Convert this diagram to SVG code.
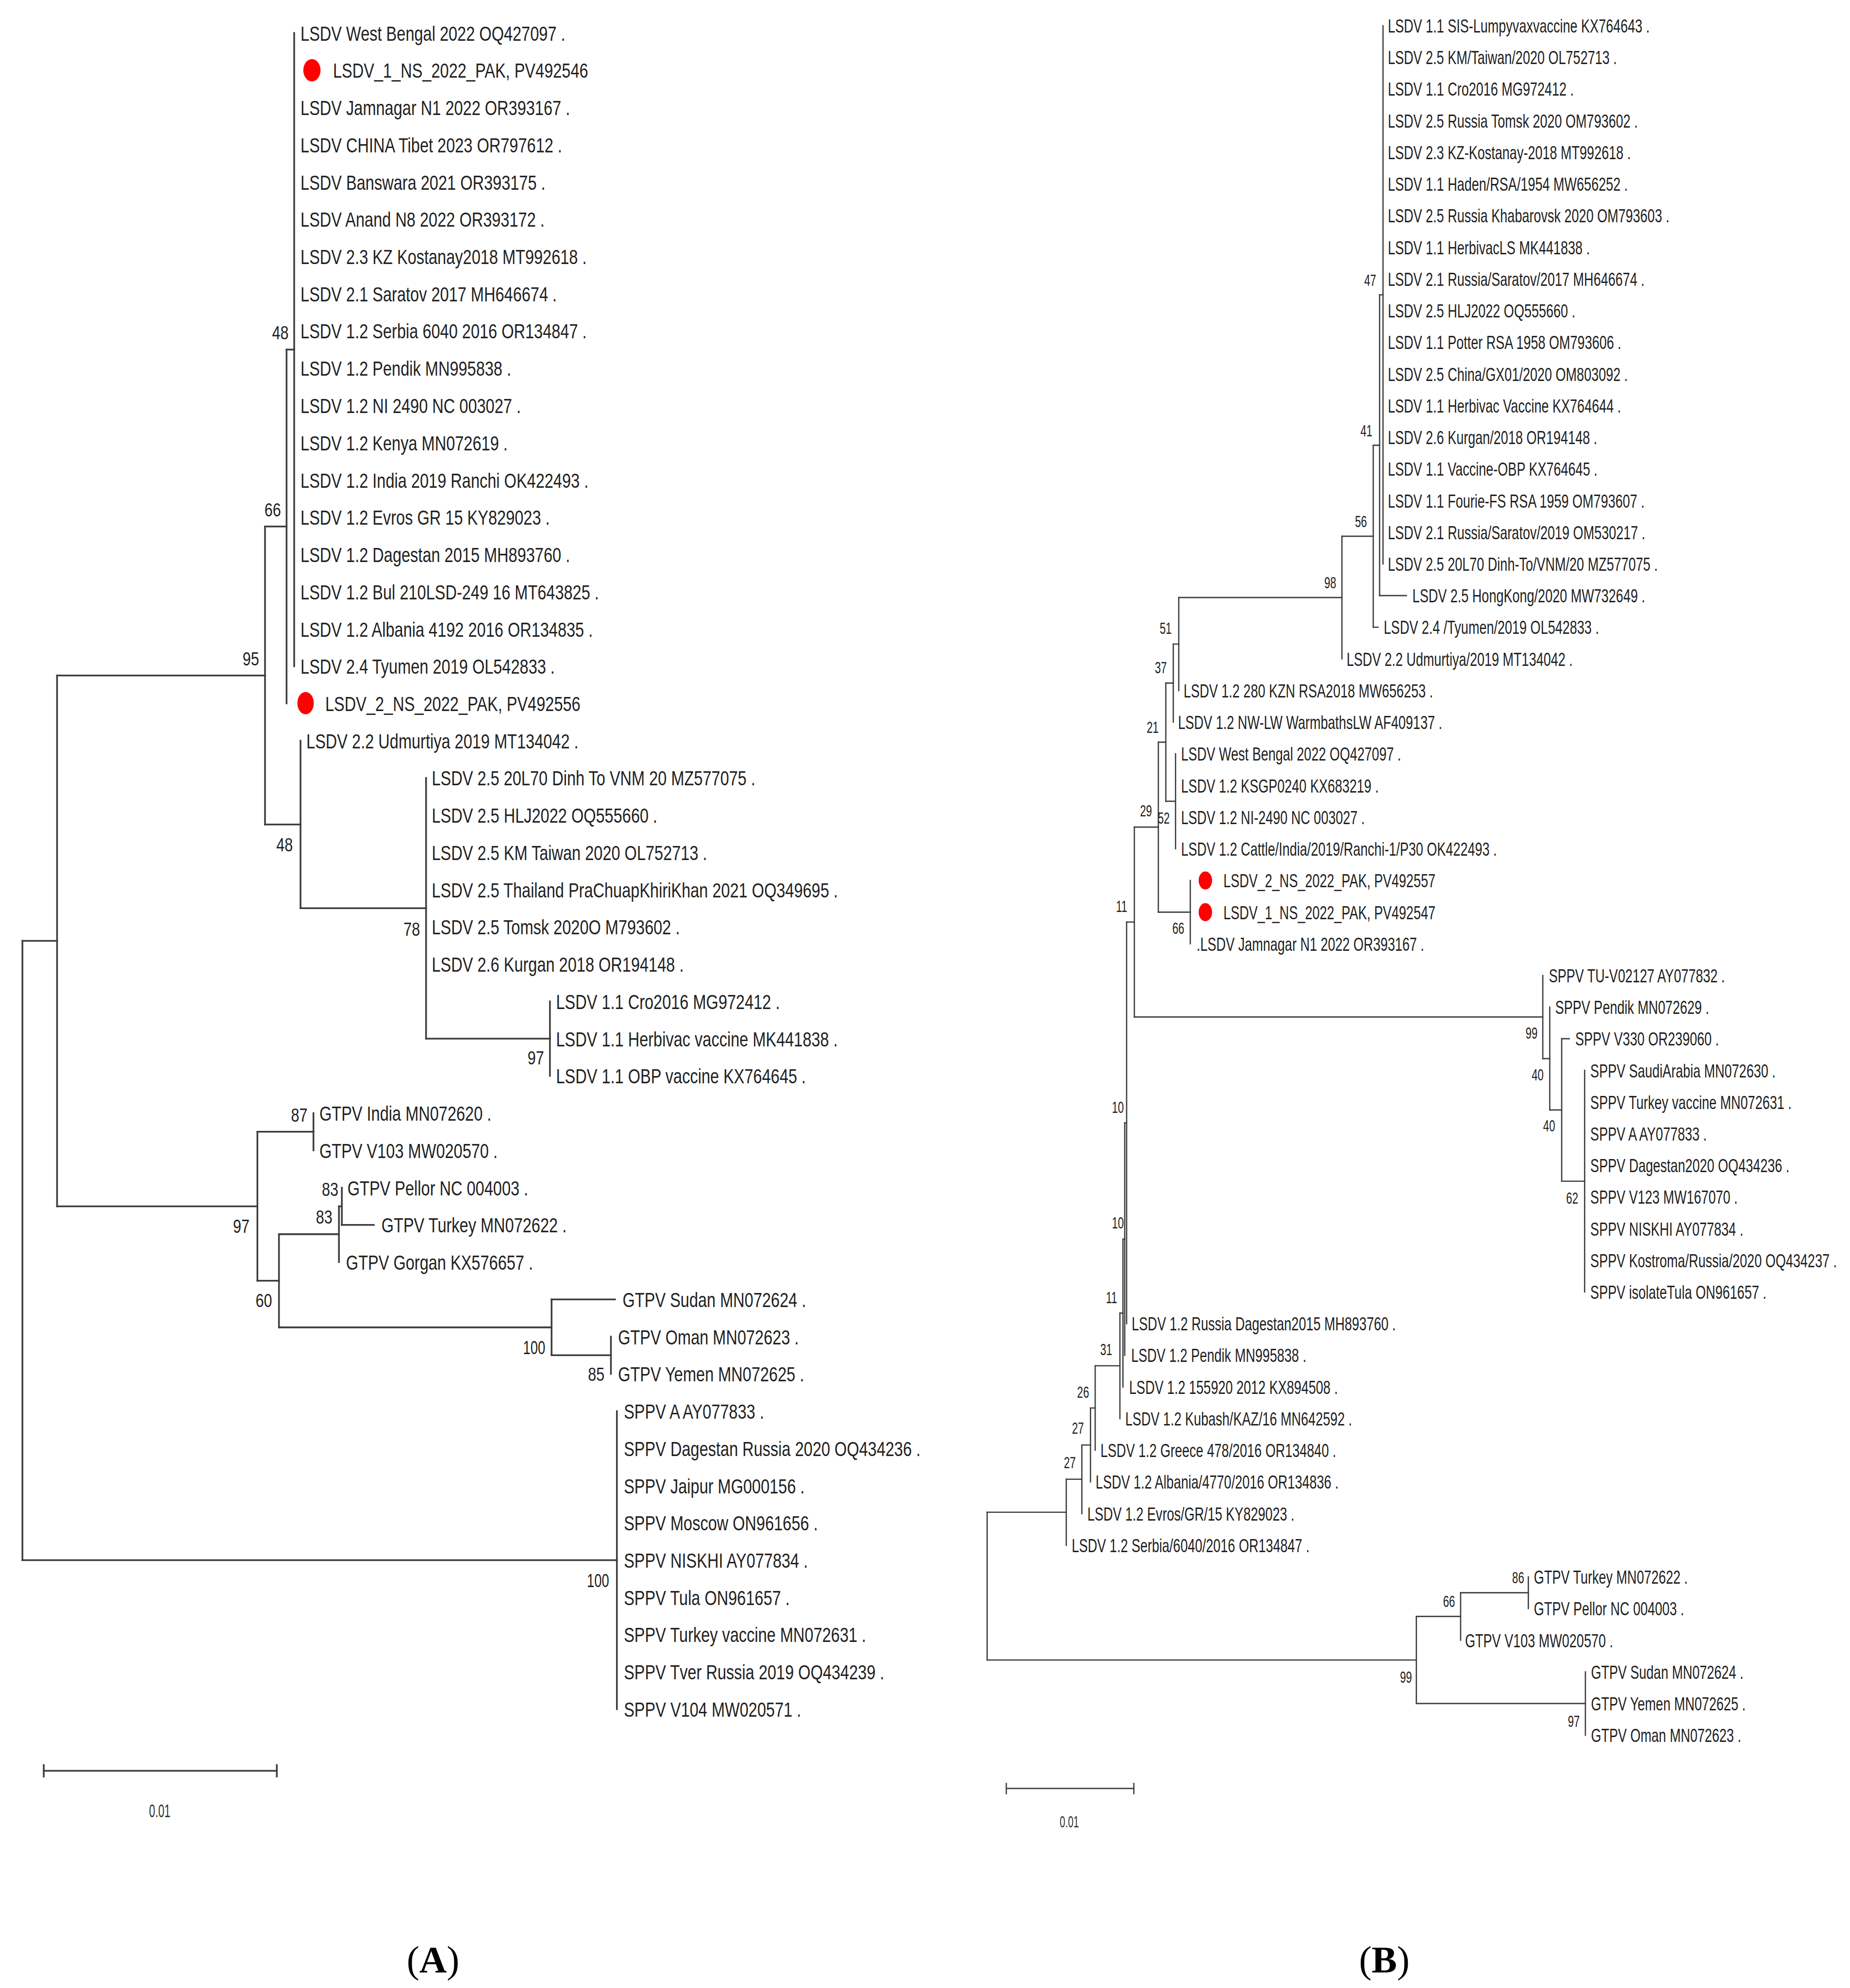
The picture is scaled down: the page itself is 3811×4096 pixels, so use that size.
<svg xmlns="http://www.w3.org/2000/svg" width="3811" height="4096" viewBox="0 0 3811 4096">
<style>
.e{stroke:#3d3d3d;fill:none;stroke-linecap:square}
.ea{stroke-width:1.35}
.eb{stroke-width:1}
text{font-family:"Liberation Sans",Arial,sans-serif;fill:#222}
.la{font-size:16.5px}
.lb{font-size:15px}
.ba{font-size:15px;text-anchor:end;fill:#333}
.bb{font-size:12.5px;text-anchor:end;fill:#333}
.sc{text-anchor:middle;fill:#333}
.pl{font-family:"Liberation Serif","Times New Roman",serif;font-size:30px;text-anchor:middle;fill:#000}
.dot{fill:#ff0000}
</style>
<rect width="3811" height="4096" fill="#fff"/>
<g transform="scale(2.6121)">
<!-- ===== TREE A ===== -->
<g id="connectors-A" class="e ea">
<path d="M232 26V525.5M226 275.75V554.8M209 415.3V650.3M237 584.2V716.4M336 613.6V819.25M433.7 789.9V848.6M45 532.8V951.5M203 892.7V1010.2M247.2 878V907.4M220 973.5V1047M267.3 951.5V995.5M269.6 936.8V966.2M435 1024.9V1069M481.8 1054.3V1083.7M486.5 1113.1V1348.1M17.7 742.1V1230.6"/>
<path d="M45 532.8H209M209 415.3H226M226 275.75H232M209 650.3H237M237 716.4H336M336 819.25H433.7M45 951.5H203M203 892.7H247.2M203 1010.2H220M220 973.5H267.3M267.3 951.5H269.6M269.6 966.2H294.8M220 1047H435M435 1024.9H485M435 1069H481.8M17.7 742.1H45M17.7 1230.6H486.5"/>
</g>
<g id="leaves-A" class="la">
<g id="a0"><text transform="translate(237 32) scale(.755 1)">LSDV West Bengal 2022 OQ427097 .</text></g>
<g id="a1"><ellipse class="dot" cx="246" cy="55.4" rx="6.8" ry="8.8"/><text transform="translate(262.6 61.4) scale(.755 1)">LSDV_1_NS_2022_PAK, PV492546</text></g>
<g id="a2"><text transform="translate(237 90.8) scale(.755 1)">LSDV Jamnagar N1 2022 OR393167 .</text></g>
<g id="a3"><text transform="translate(237 120.1) scale(.755 1)">LSDV CHINA Tibet 2023 OR797612 .</text></g>
<g id="a4"><text transform="translate(237 149.5) scale(.755 1)">LSDV Banswara 2021 OR393175 .</text></g>
<g id="a5"><text transform="translate(237 178.9) scale(.755 1)">LSDV Anand N8 2022 OR393172 .</text></g>
<g id="a6"><text transform="translate(237 208.3) scale(.755 1)">LSDV 2.3 KZ Kostanay2018 MT992618 .</text></g>
<g id="a7"><text transform="translate(237 237.7) scale(.755 1)">LSDV 2.1 Saratov 2017 MH646674 .</text></g>
<g id="a8"><text transform="translate(237 267) scale(.755 1)">LSDV 1.2 Serbia 6040 2016 OR134847 .</text></g>
<g id="a9"><text transform="translate(237 296.4) scale(.755 1)">LSDV 1.2 Pendik MN995838 .</text></g>
<g id="a10"><text transform="translate(237 325.8) scale(.755 1)">LSDV 1.2 NI 2490 NC 003027 .</text></g>
<g id="a11"><text transform="translate(237 355.2) scale(.755 1)">LSDV 1.2 Kenya MN072619 .</text></g>
<g id="a12"><text transform="translate(237 384.6) scale(.755 1)">LSDV 1.2 India 2019 Ranchi OK422493 .</text></g>
<g id="a13"><text transform="translate(237 413.9) scale(.755 1)">LSDV 1.2 Evros GR 15 KY829023 .</text></g>
<g id="a14"><text transform="translate(237 443.3) scale(.755 1)">LSDV 1.2 Dagestan 2015 MH893760 .</text></g>
<g id="a15"><text transform="translate(237 472.7) scale(.755 1)">LSDV 1.2 Bul 210LSD-249 16 MT643825 .</text></g>
<g id="a16"><text transform="translate(237 502.1) scale(.755 1)">LSDV 1.2 Albania 4192 2016 OR134835 .</text></g>
<g id="a17"><text transform="translate(237 531.5) scale(.755 1)">LSDV 2.4 Tyumen 2019 OL542833 .</text></g>
<g id="a18"><ellipse class="dot" cx="241" cy="554.6" rx="6.5" ry="8.8"/><text transform="translate(256.5 560.8) scale(.755 1)">LSDV_2_NS_2022_PAK, PV492556</text></g>
<g id="a19"><text transform="translate(241.6 590.2) scale(.755 1)">LSDV 2.2 Udmurtiya 2019 MT134042 .</text></g>
<g id="a20"><text transform="translate(340.5 619.6) scale(.755 1)">LSDV 2.5 20L70 Dinh To VNM 20 MZ577075 .</text></g>
<g id="a21"><text transform="translate(340.5 649) scale(.755 1)">LSDV 2.5 HLJ2022 OQ555660 .</text></g>
<g id="a22"><text transform="translate(340.5 678.4) scale(.755 1)">LSDV 2.5 KM Taiwan 2020 OL752713 .</text></g>
<g id="a23"><text transform="translate(340.5 707.7) scale(.755 1)">LSDV 2.5 Thailand PraChuapKhiriKhan 2021 OQ349695 .</text></g>
<g id="a24"><text transform="translate(340.5 737.1) scale(.755 1)">LSDV 2.5 Tomsk 2020O M793602 .</text></g>
<g id="a25"><text transform="translate(340.5 766.5) scale(.755 1)">LSDV 2.6 Kurgan 2018 OR194148 .</text></g>
<g id="a26"><text transform="translate(438.5 795.9) scale(.755 1)">LSDV 1.1 Cro2016 MG972412 .</text></g>
<g id="a27"><text transform="translate(438.5 825.3) scale(.755 1)">LSDV 1.1 Herbivac vaccine MK441838 .</text></g>
<g id="a28"><text transform="translate(438.5 854.6) scale(.755 1)">LSDV 1.1 OBP vaccine KX764645 .</text></g>
<g id="a29"><text transform="translate(251.9 884) scale(.755 1)">GTPV India MN072620 .</text></g>
<g id="a30"><text transform="translate(251.9 913.4) scale(.755 1)">GTPV V103 MW020570 .</text></g>
<g id="a31"><text transform="translate(274 942.8) scale(.755 1)">GTPV Pellor NC 004003 .</text></g>
<g id="a32"><text transform="translate(300.8 972.2) scale(.755 1)">GTPV Turkey MN072622 .</text></g>
<g id="a33"><text transform="translate(272.9 1001.5) scale(.755 1)">GTPV Gorgan KX576657 .</text></g>
<g id="a34"><text transform="translate(491 1030.9) scale(.755 1)">GTPV Sudan MN072624 .</text></g>
<g id="a35"><text transform="translate(487.4 1060.3) scale(.755 1)">GTPV Oman MN072623 .</text></g>
<g id="a36"><text transform="translate(487.4 1089.7) scale(.755 1)">GTPV Yemen MN072625 .</text></g>
<g id="a37"><text transform="translate(492 1119.1) scale(.755 1)">SPPV A AY077833 .</text></g>
<g id="a38"><text transform="translate(492 1148.4) scale(.755 1)">SPPV Dagestan Russia 2020 OQ434236 .</text></g>
<g id="a39"><text transform="translate(492 1177.8) scale(.755 1)">SPPV Jaipur MG000156 .</text></g>
<g id="a40"><text transform="translate(492 1207.2) scale(.755 1)">SPPV Moscow ON961656 .</text></g>
<g id="a41"><text transform="translate(492 1236.6) scale(.755 1)">SPPV NISKHI AY077834 .</text></g>
<g id="a42"><text transform="translate(492 1266) scale(.755 1)">SPPV Tula ON961657 .</text></g>
<g id="a43"><text transform="translate(492 1295.3) scale(.755 1)">SPPV Turkey vaccine MN072631 .</text></g>
<g id="a44"><text transform="translate(492 1324.7) scale(.755 1)">SPPV Tver Russia 2019 OQ434239 .</text></g>
<g id="a45"><text transform="translate(492 1354.1) scale(.755 1)">SPPV V104 MW020571 .</text></g>
</g>
<g id="bootstrap-A" class="ba">
<text transform="translate(227.6 267.6) scale(.78 1)">48</text>
<text transform="translate(221.6 407.2) scale(.78 1)">66</text>
<text transform="translate(204.3 524.7) scale(.78 1)">95</text>
<text transform="translate(230.9 671.4) scale(.78 1)">48</text>
<text transform="translate(331.2 738.1) scale(.78 1)">78</text>
<text transform="translate(429.1 839.7) scale(.78 1)">97</text>
<text transform="translate(242.5 884.6) scale(.78 1)">87</text>
<text transform="translate(266.8 943.2) scale(.78 1)">83</text>
<text transform="translate(262.1 965.2) scale(.78 1)">83</text>
<text transform="translate(196.8 972.4) scale(.78 1)">97</text>
<text transform="translate(214.6 1030.9) scale(.78 1)">60</text>
<text transform="translate(430 1068) scale(.7 1)">100</text>
<text transform="translate(476.7 1089.2) scale(.78 1)">85</text>
<text transform="translate(480.4 1252) scale(.7 1)">100</text>
</g>
<g id="scale-A">
<path class="e ea" d="M34.5 1396.8H218.3M34.5 1392.3V1401.3M218.3 1392.3V1401.3"/>
<text class="sc" font-size="14" transform="translate(126 1433.5) scale(.62 1)">0.01</text>
</g>
<text class="pl" x="341.5" y="1556">(<tspan font-weight="bold">A</tspan>)</text>

<!-- ===== TREE B ===== -->
<g id="connectors-B" class="e eb">
<path d="M1090.7 20.3V444.8M1088 232.55V469.8M1083 351.2V494.7M1058.3 423V519.7M929.6 471.3V544.7M925.3 508V569.6M927.1 594.6V669.5M919.4 538.8V632M938.7 694.5V744.4M913.5 585.4V719.5M1249.7 844.3V1019.1M1231.6 819.3V931.7M1222.2 794.4V875.5M1216.7 769.4V835M894.6 652.4V802.2M888.5 727.3V1044.1M887 885.7V1069M885.6 977.4V1094M883.2 1035.7V1119M863.7 1077.3V1143.9M860 1110.6V1168.9M853.2 1139.8V1193.9M840.9 1166.8V1218.9M1205.3 1243.8V1268.8M1151.9 1256.3V1293.8M1250.3 1318.7V1368.7M1117 1275V1343.7M778.5 1192.8V1309.4"/>
<path d="M1088 232.55H1090.7M1083 351.2H1088M1058.3 423H1083M929.6 471.3H1058.3M925.3 508H929.6M919.4 538.8H925.3M919.4 632H927.1M913.5 585.4H919.4M913.5 719.5H938.7M894.6 652.4H913.5M894.6 802.2H1216.7M1216.7 835H1222.2M1222.2 875.5H1231.6M1231.6 819.3H1237.6M1231.6 931.7H1249.7M888.5 727.3H894.6M887 885.7H888.5M885.6 977.4H887M883.2 1035.7H885.6M863.7 1077.3H883.2M860 1110.6H863.7M853.2 1139.8H860M840.9 1166.8H853.2M778.5 1192.8H840.9M778.5 1309.4H1117M1117 1275H1151.9M1151.9 1256.3H1205.3M1117 1343.7H1250.3M1088 469.8H1109.1M1083 494.7H1086.8"/>
</g>
<g id="leaves-B" class="lb">
<g id="b0"><text transform="translate(1094.5 25.7) scale(.69 1)">LSDV 1.1 SIS-Lumpyvaxvaccine KX764643 .</text></g>
<g id="b1"><text transform="translate(1094.5 50.7) scale(.69 1)">LSDV 2.5 KM/Taiwan/2020 OL752713 .</text></g>
<g id="b2"><text transform="translate(1094.5 75.6) scale(.69 1)">LSDV 1.1 Cro2016 MG972412 .</text></g>
<g id="b3"><text transform="translate(1094.5 100.6) scale(.69 1)">LSDV 2.5 Russia Tomsk 2020 OM793602 .</text></g>
<g id="b4"><text transform="translate(1094.5 125.6) scale(.69 1)">LSDV 2.3 KZ-Kostanay-2018 MT992618 .</text></g>
<g id="b5"><text transform="translate(1094.5 150.6) scale(.69 1)">LSDV 1.1 Haden/RSA/1954 MW656252 .</text></g>
<g id="b6"><text transform="translate(1094.5 175.5) scale(.69 1)">LSDV 2.5 Russia Khabarovsk 2020 OM793603 .</text></g>
<g id="b7"><text transform="translate(1094.5 200.5) scale(.69 1)">LSDV 1.1 HerbivacLS MK441838 .</text></g>
<g id="b8"><text transform="translate(1094.5 225.5) scale(.69 1)">LSDV 2.1 Russia/Saratov/2017 MH646674 .</text></g>
<g id="b9"><text transform="translate(1094.5 250.4) scale(.69 1)">LSDV 2.5 HLJ2022 OQ555660 .</text></g>
<g id="b10"><text transform="translate(1094.5 275.4) scale(.69 1)">LSDV 1.1 Potter RSA 1958 OM793606 .</text></g>
<g id="b11"><text transform="translate(1094.5 300.4) scale(.69 1)">LSDV 2.5 China/GX01/2020 OM803092 .</text></g>
<g id="b12"><text transform="translate(1094.5 325.3) scale(.69 1)">LSDV 1.1 Herbivac Vaccine KX764644 .</text></g>
<g id="b13"><text transform="translate(1094.5 350.3) scale(.69 1)">LSDV 2.6 Kurgan/2018 OR194148 .</text></g>
<g id="b14"><text transform="translate(1094.5 375.3) scale(.69 1)">LSDV 1.1 Vaccine-OBP KX764645 .</text></g>
<g id="b15"><text transform="translate(1094.5 400.3) scale(.69 1)">LSDV 1.1 Fourie-FS RSA 1959 OM793607 .</text></g>
<g id="b16"><text transform="translate(1094.5 425.2) scale(.69 1)">LSDV 2.1 Russia/Saratov/2019 OM530217 .</text></g>
<g id="b17"><text transform="translate(1094.5 450.2) scale(.69 1)">LSDV 2.5 20L70 Dinh-To/VNM/20 MZ577075 .</text></g>
<g id="b18"><text transform="translate(1113.9 475.2) scale(.69 1)">LSDV 2.5 HongKong/2020 MW732649 .</text></g>
<g id="b19"><text transform="translate(1091.3 500.1) scale(.69 1)">LSDV 2.4 /Tyumen/2019 OL542833 .</text></g>
<g id="b20"><text transform="translate(1062 525.1) scale(.69 1)">LSDV 2.2 Udmurtiya/2019 MT134042 .</text></g>
<g id="b21"><text transform="translate(933.4 550.1) scale(.69 1)">LSDV 1.2 280 KZN RSA2018 MW656253 .</text></g>
<g id="b22"><text transform="translate(929 575) scale(.69 1)">LSDV 1.2 NW-LW WarmbathsLW AF409137 .</text></g>
<g id="b23"><text transform="translate(931.4 600) scale(.69 1)">LSDV West Bengal 2022 OQ427097 .</text></g>
<g id="b24"><text transform="translate(931.4 625) scale(.69 1)">LSDV 1.2 KSGP0240 KX683219 .</text></g>
<g id="b25"><text transform="translate(931.4 650) scale(.69 1)">LSDV 1.2 NI-2490 NC 003027 .</text></g>
<g id="b26"><text transform="translate(931.4 674.9) scale(.69 1)">LSDV 1.2 Cattle/India/2019/Ranchi-1/P30 OK422493 .</text></g>
<g id="b27"><ellipse class="dot" cx="950.6" cy="694.5" rx="5.3" ry="7.1"/><text transform="translate(964.8 699.9) scale(.69 1)">LSDV_2_NS_2022_PAK, PV492557</text></g>
<g id="b28"><ellipse class="dot" cx="950.6" cy="719.5" rx="5.3" ry="7.1"/><text transform="translate(964.8 724.9) scale(.69 1)">LSDV_1_NS_2022_PAK, PV492547</text></g>
<g id="b29"><text transform="translate(943.7 749.8) scale(.69 1)">.LSDV Jamnagar N1 2022 OR393167 .</text></g>
<g id="b30"><text transform="translate(1221.5 774.8) scale(.69 1)">SPPV TU-V02127 AY077832 .</text></g>
<g id="b31"><text transform="translate(1226.5 799.8) scale(.69 1)">SPPV Pendik MN072629 .</text></g>
<g id="b32"><text transform="translate(1242.3 824.7) scale(.69 1)">SPPV V330 OR239060 .</text></g>
<g id="b33"><text transform="translate(1254.2 849.7) scale(.69 1)">SPPV SaudiArabia MN072630 .</text></g>
<g id="b34"><text transform="translate(1254.2 874.7) scale(.69 1)">SPPV Turkey vaccine MN072631 .</text></g>
<g id="b35"><text transform="translate(1254.2 899.7) scale(.69 1)">SPPV A AY077833 .</text></g>
<g id="b36"><text transform="translate(1254.2 924.6) scale(.69 1)">SPPV Dagestan2020 OQ434236 .</text></g>
<g id="b37"><text transform="translate(1254.2 949.6) scale(.69 1)">SPPV V123 MW167070 .</text></g>
<g id="b38"><text transform="translate(1254.2 974.6) scale(.69 1)">SPPV NISKHI AY077834 .</text></g>
<g id="b39"><text transform="translate(1254.2 999.5) scale(.69 1)">SPPV Kostroma/Russia/2020 OQ434237 .</text></g>
<g id="b40"><text transform="translate(1254.2 1024.5) scale(.69 1)">SPPV isolateTula ON961657 .</text></g>
<g id="b41"><text transform="translate(892.5 1049.5) scale(.69 1)">LSDV 1.2 Russia Dagestan2015 MH893760 .</text></g>
<g id="b42"><text transform="translate(892.1 1074.4) scale(.69 1)">LSDV 1.2 Pendik MN995838 .</text></g>
<g id="b43"><text transform="translate(890.5 1099.4) scale(.69 1)">LSDV 1.2 155920 2012 KX894508 .</text></g>
<g id="b44"><text transform="translate(887.4 1124.4) scale(.69 1)">LSDV 1.2 Kubash/KAZ/16 MN642592 .</text></g>
<g id="b45"><text transform="translate(867.9 1149.3) scale(.69 1)">LSDV 1.2 Greece 478/2016 OR134840 .</text></g>
<g id="b46"><text transform="translate(864.1 1174.3) scale(.69 1)">LSDV 1.2 Albania/4770/2016 OR134836 .</text></g>
<g id="b47"><text transform="translate(857.5 1199.3) scale(.69 1)">LSDV 1.2 Evros/GR/15 KY829023 .</text></g>
<g id="b48"><text transform="translate(845.2 1224.3) scale(.69 1)">LSDV 1.2 Serbia/6040/2016 OR134847 .</text></g>
<g id="b49"><text transform="translate(1209.7 1249.2) scale(.69 1)">GTPV Turkey MN072622 .</text></g>
<g id="b50"><text transform="translate(1209.7 1274.2) scale(.69 1)">GTPV Pellor NC 004003 .</text></g>
<g id="b51"><text transform="translate(1155.4 1299.2) scale(.69 1)">GTPV V103 MW020570 .</text></g>
<g id="b52"><text transform="translate(1254.7 1324.1) scale(.69 1)">GTPV Sudan MN072624 .</text></g>
<g id="b53"><text transform="translate(1254.7 1349.1) scale(.69 1)">GTPV Yemen MN072625 .</text></g>
<g id="b54"><text transform="translate(1254.7 1374.1) scale(.69 1)">GTPV Oman MN072623 .</text></g>
</g>
<g id="bootstrap-B" class="bb">
<text transform="translate(1085.3 225.3) scale(.68 1)">47</text>
<text transform="translate(1082.3 344.1) scale(.68 1)">41</text>
<text transform="translate(1078 415.8) scale(.68 1)">56</text>
<text transform="translate(1053.8 464) scale(.68 1)">98</text>
<text transform="translate(924 500.1) scale(.68 1)">51</text>
<text transform="translate(920.2 530.8) scale(.68 1)">37</text>
<text transform="translate(913.8 577.9) scale(.68 1)">21</text>
<text transform="translate(908.5 644.1) scale(.68 1)">29</text>
<text transform="translate(922.5 649.5) scale(.68 1)">52</text>
<text transform="translate(934 736.5) scale(.68 1)">66</text>
<text transform="translate(889 719.3) scale(.68 1)">11</text>
<text transform="translate(886.3 877.8) scale(.68 1)">10</text>
<text transform="translate(886.3 969) scale(.68 1)">10</text>
<text transform="translate(881 1027.9) scale(.68 1)">11</text>
<text transform="translate(877.1 1068.9) scale(.68 1)">31</text>
<text transform="translate(858.9 1102.5) scale(.68 1)">26</text>
<text transform="translate(854.8 1130.8) scale(.68 1)">27</text>
<text transform="translate(848.4 1158.1) scale(.68 1)">27</text>
<text transform="translate(1212.6 819.1) scale(.68 1)">99</text>
<text transform="translate(1217.4 852.3) scale(.68 1)">40</text>
<text transform="translate(1226.4 892.5) scale(.68 1)">40</text>
<text transform="translate(1244.6 949.3) scale(.68 1)">62</text>
<text transform="translate(1202 1248.9) scale(.68 1)">86</text>
<text transform="translate(1147.5 1267.5) scale(.68 1)">66</text>
<text transform="translate(1113.5 1327.2) scale(.68 1)">99</text>
<text transform="translate(1245.9 1362.2) scale(.68 1)">97</text>
</g>
<g id="scale-B">
<path class="e eb" d="M793.6 1410.7H894.2M793.6 1406.7V1414.7M894.2 1406.7V1414.7"/>
<text class="sc" font-size="13" transform="translate(843.3 1441.5) scale(.6 1)">0.01</text>
</g>
<text class="pl" x="1091.7" y="1556">(<tspan font-weight="bold">B</tspan>)</text>
</g>
</svg>
